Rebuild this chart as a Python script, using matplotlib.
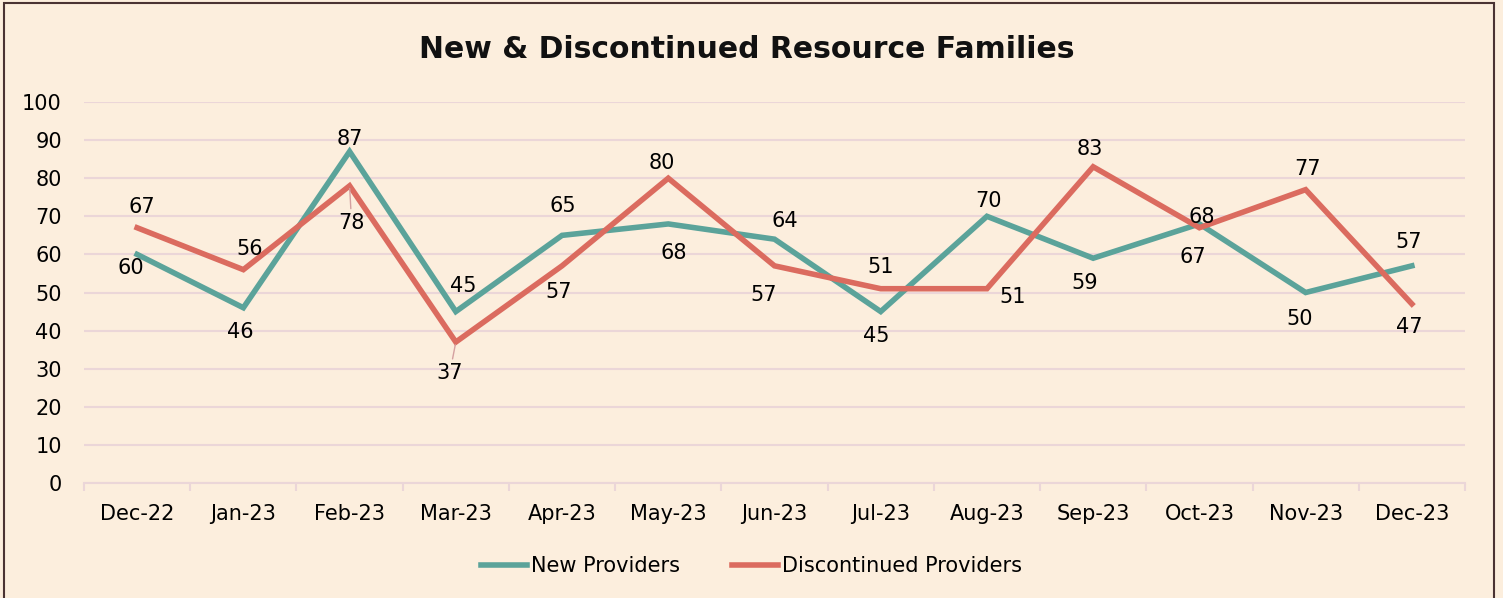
import matplotlib.pyplot as plt
from matplotlib.patches import Rectangle
import numpy as np

months = ['Dec-22', 'Jan-23', 'Feb-23', 'Mar-23', 'Apr-23', 'May-23', 'Jun-23',
          'Jul-23', 'Aug-23', 'Sep-23', 'Oct-23', 'Nov-23', 'Dec-23']
new_providers = [60, 46, 87, 45, 65, 68, 64, 45, 70, 59, 68, 50, 57]
disc_providers = [67, 56, 78, 37, 57, 80, 57, 51, 51, 83, 67, 77, 47]

# data label offsets from the point, in pixels (dx, dy), as placed in the original
new_off = [(-6, -14), (-3, -24), (0, 13), (7, 26), (1, 29), (5, -29), (10, 18),
           (-4, -24), (2, 15), (-8, -25), (2, 7), (-6, -26), (-3, 24)]
disc_off = [(5, 21), (6, 21), (2, -37), (-6, -31), (-3, -26), (-6, 15), (-11, -29),
            (0, 22), (26, -8), (-3, 18), (-7, -29), (2, 21), (-3, -23)]
leader = {2, 3}  # discontinued labels pulled away with a leader line

bg = '#FCEEDD'
grid_c = '#EBD6D8'
teal = '#5BA39A'
red = '#DB6B5F'

fig = plt.figure(figsize=(15.03, 5.98), dpi=100, facecolor=bg)
ax = fig.add_axes([0.0559, 0.1923, 0.9188, 0.6371], facecolor=bg)

x = np.arange(len(months))
ax.plot(x, new_providers, color=teal, lw=4, label='New Providers', solid_joinstyle='miter')
ax.plot(x, disc_providers, color=red, lw=4, label='Discontinued Providers', solid_joinstyle='miter')

def put_labels(vals, offs, lead=()):
    for i, (xi, v, off) in enumerate(zip(x, vals, offs)):
        kw = {}
        if i in lead:
            kw['arrowprops'] = dict(arrowstyle='-', color='#D4A0A0', lw=1,
                                    shrinkA=1, shrinkB=2)
        ax.annotate(str(v), (xi, v), xytext=off, textcoords='offset pixels',
                    ha='center', va='center', fontsize=15, color='black', **kw)

put_labels(new_providers, new_off)
put_labels(disc_providers, disc_off, leader)

ax.set_xlim(-0.5, len(months) - 0.5)
ax.set_ylim(0, 100)
ax.set_yticks(range(0, 101, 10))
ax.set_xticks(x)
ax.set_xticklabels(months)
ax.set_xticks(np.arange(-0.5, len(months), 1), minor=True)
ax.tick_params(axis='x', which='major', length=0, pad=15, labelsize=15)
ax.tick_params(axis='x', which='minor', length=6, color=grid_c, width=1.5)
ax.tick_params(axis='y', length=0, pad=16, labelsize=15)
ax.grid(axis='y', color=grid_c, lw=1.5)
ax.set_axisbelow(True)
for s in ['top', 'right', 'left']:
    ax.spines[s].set_visible(False)
ax.spines['bottom'].set_color(grid_c)
ax.spines['bottom'].set_linewidth(1.5)

fig.text(0.497, 0.918, 'New & Discontinued Resource Families', ha='center', va='center',
         fontsize=21.5, fontweight='bold', color='#111111')

fig.legend(loc='center', bbox_to_anchor=(0.5, 0.053), ncol=2, frameon=False,
           fontsize=15, handlelength=2.2, handletextpad=0.2, columnspacing=2.5)

fig.patches.append(Rectangle((4 / 1503, -0.05), 1490 / 1503, 1 - 3 / 598 + 0.05,
                             transform=fig.transFigure, fill=False,
                             edgecolor='#4A3333', lw=1.5))

fig.savefig('out.png', dpi=100, facecolor=bg)
